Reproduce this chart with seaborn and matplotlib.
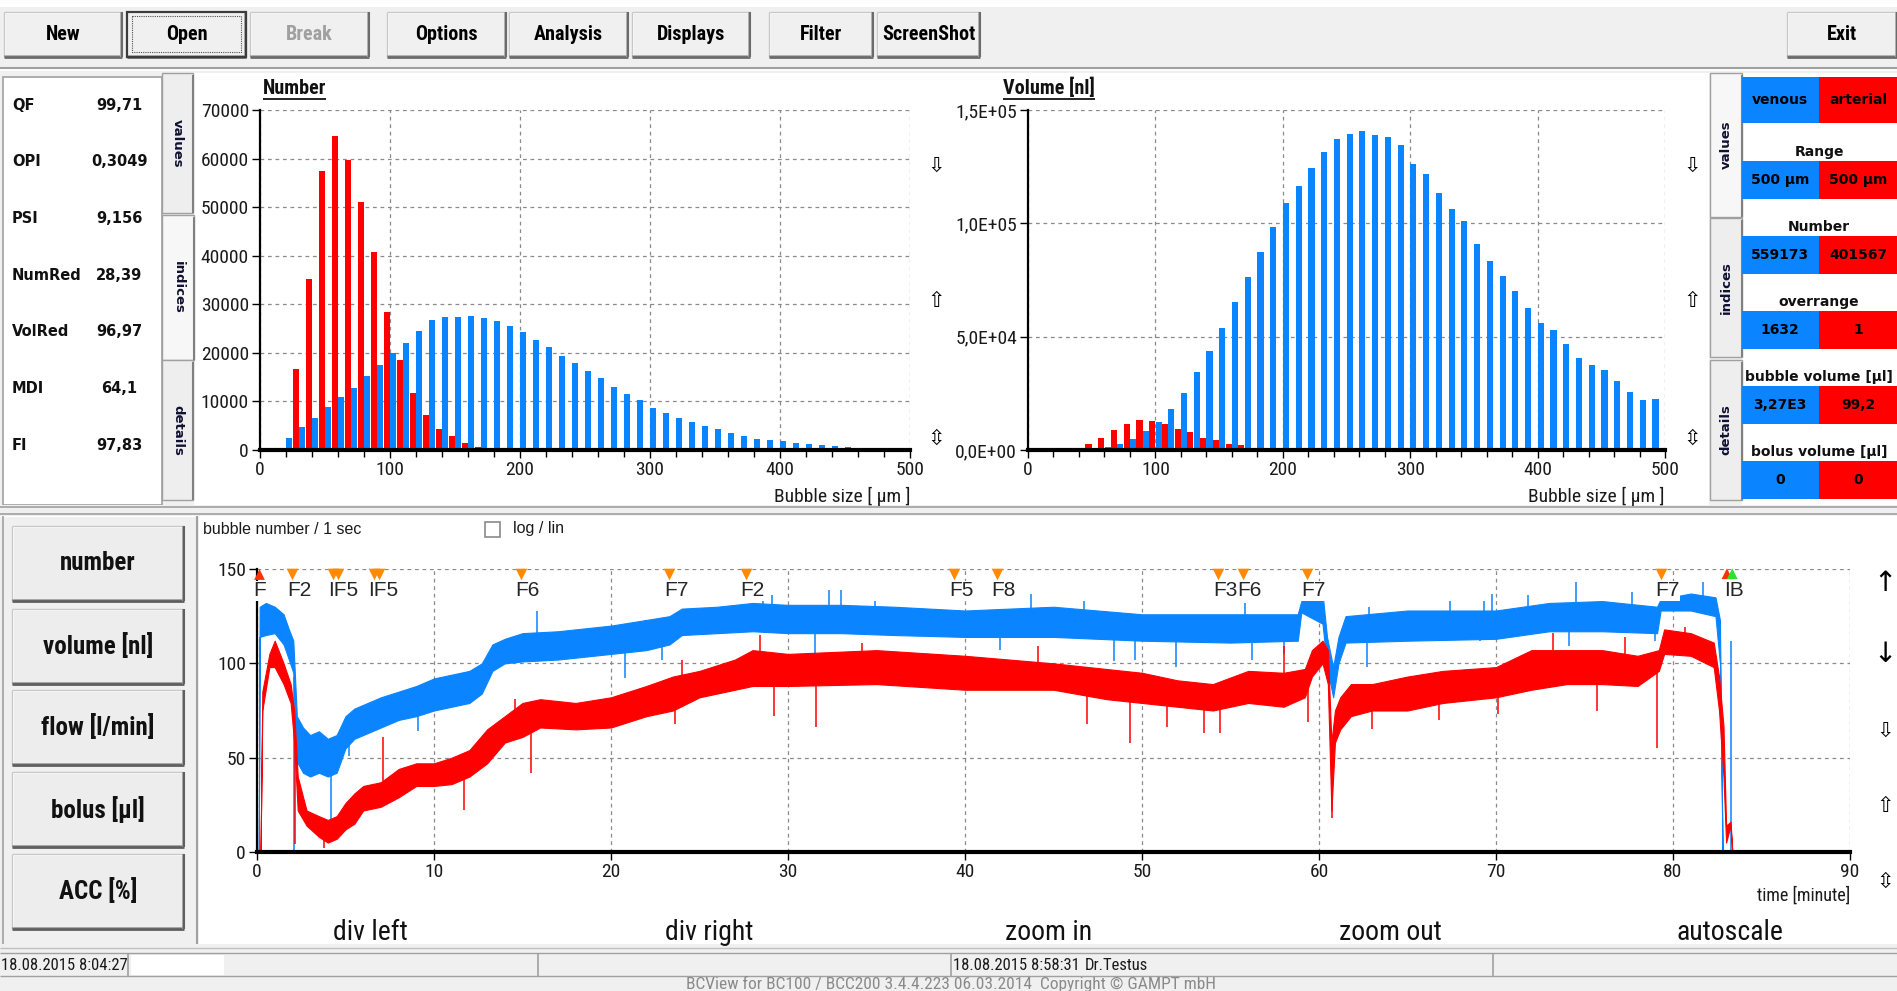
import numpy as np
import pandas as pd
import matplotlib
matplotlib.use("Agg")
import matplotlib.pyplot as plt
import seaborn as sns
from matplotlib.patches import Rectangle
from matplotlib import font_manager as fm
from matplotlib.ticker import MultipleLocator

# ---------------------------------------------------------------- data
bubble_sizes = [25, 35, 45, 55, 65, 75, 85, 95, 105, 115, 125, 135, 145, 155, 165, 175,
                185, 195, 205, 215, 225, 235, 245, 255, 265, 275, 285, 295, 305, 315, 325,
                335, 345, 355, 365, 375, 385, 395, 405, 415, 425, 435, 445, 455, 465, 475,
                485, 495]
number_venous = [2400, 4660, 6580, 8770, 10830, 12680, 15150, 17400, 19880, 22070, 24540,
                 26730, 27480, 27480, 27690, 27210, 26460, 25500, 24260, 22550, 21180, 19400,
                 17890, 16180, 14740, 13020, 11510, 10280, 8640, 7680, 6580, 5690, 4870, 4250,
                 3430, 2950, 2260, 1990, 1780, 1440, 1230, 1030, 750, 690, 480, 410, 270, 270]
number_arterial = [16650, 35300, 57370, 64700, 59630, 51000, 40710, 28440, 18570, 11790, 7270,
                   4390, 2880, 1370, 690, 410, 200, 200, 0, 0, 0, 0, 0, 0, 0, 0, 0, 0, 0, 0,
                   0, 0, 0, 0, 0, 0, 0, 0, 0, 0, 0, 0, 0, 0, 0, 0, 0, 0]
volume_venous = [0, 150, 440, 730, 1470, 2500, 4700, 8380, 12200, 17930, 25270, 34230, 43640,
                 53630, 65090, 76110, 87280, 98300, 108880, 116660, 124600, 131500, 137230,
                 139290, 140910, 138850, 138260, 134590, 126210, 121950, 113580, 106230, 100940,
                 90950, 83600, 76700, 69940, 62450, 56130, 53040, 46720, 40410, 37320, 35120,
                 30410, 25710, 22040, 22630]
volume_arterial = [0, 1030, 2640, 5290, 8960, 11610, 13220, 12640, 11460, 9400, 7930, 5290,
                   4260, 2640, 2060, 880, 880, 590, 590, 0, 0, 0, 0, 0, 0, 0, 0, 0, 0, 0, 0,
                   0, 0, 0, 0, 0, 0, 0, 0, 0, 0, 0, 0, 0, 0, 0, 0, 0]
hist_xticks = [0, 100, 200, 300, 400, 500]
number_yticks = [0, 10000, 20000, 30000, 40000, 50000, 60000, 70000]
number_ylabels = ["0", "10000", "20000", "30000", "40000", "50000", "60000", "70000"]
volume_yticks = [0, 50000, 100000, 150000]
volume_ylabels = ["0,0E+00", "5,0E+04", "1,0E+05", "1,5E+05"]

# time series (bubble number / 1 sec): envelope of the dense noisy trace
venous_t = [0.0, 0.1, 0.15, 0.5, 1.0, 1.5, 1.8, 2.05, 2.25, 2.6, 3.0, 3.5, 4.0, 4.5, 5.0,
            5.5, 6.0, 7.0, 8.0, 9.0, 10.0, 11.0, 12.0, 12.7, 13.3, 14.0, 15.0, 17.0, 20.0,
            22.0, 23.3, 24.0, 26.0, 28.0, 30.0, 33.0, 36.0, 40.0, 45.0, 50.0, 55.0, 58.8,
            59.0, 60.2, 60.45, 60.8, 61.1, 61.5, 65.0, 70.0, 73.0, 76.0, 79.1, 79.3, 81.0,
            82.4, 82.65, 82.8, 83.5]
venous_lo = [0, 0, 114, 115, 116, 110, 102, 95, 48, 42, 40, 42, 40, 42, 55, 60, 62, 66, 70,
             72, 75, 77, 79, 84, 96, 100, 101, 102, 105, 107, 110, 115, 116, 117, 116, 116,
             115, 114, 114, 112, 111, 112, 127, 121, 98, 82, 100, 111, 112, 113, 117, 117,
             116, 128, 128, 125, 100, 0, 0]
venous_hi = [0, 0, 130, 132, 130, 126, 118, 112, 72, 66, 62, 64, 60, 62, 72, 76, 78, 82, 85,
             88, 92, 94, 96, 100, 110, 113, 116, 117, 120, 123, 125, 129, 130, 132, 131, 131,
             130, 128, 130, 126, 126, 126, 133, 137, 114, 98, 114, 125, 128, 128, 132, 133,
             130, 134, 137, 135, 123, 0, 0]
arterial_t = [0.0, 0.2, 0.3, 0.7, 1.0, 1.5, 1.9, 2.1, 2.3, 2.8, 3.5, 4.0, 4.5, 5.0, 5.5, 6.0,
              7.0, 8.0, 9.0, 10.0, 11.0, 12.0, 13.0, 14.0, 15.0, 16.0, 18.0, 20.0, 22.0, 23.5,
              25.0, 27.0, 28.0, 30.0, 35.0, 40.0, 45.0, 48.0, 50.0, 52.0, 54.0, 56.0, 58.0,
              59.2, 59.6, 60.2, 60.5, 60.7, 60.9, 61.2, 61.8, 63.0, 65.0, 67.0, 70.0, 72.0,
              74.0, 76.0, 78.0, 79.2, 79.5, 81.0, 82.3, 82.6, 82.85, 83.0, 83.25, 83.35, 83.5]
arterial_lo = [0, 0, 75, 98, 98, 89, 79, 58, 22, 14, 8, 5, 7, 12, 15, 22, 24, 29, 35, 35, 36,
               40, 47, 58, 61, 66, 65, 66, 72, 75, 82, 86, 88, 88, 89, 86, 86, 81, 79, 77, 75,
               79, 77, 82, 93, 100, 89, 22, 58, 65, 72, 75, 75, 79, 82, 86, 89, 89, 88, 96,
               105, 104, 98, 75, 40, 5, 14, 0, 0]
arterial_hi = [0, 0, 85, 105, 112, 100, 89, 75, 40, 22, 19, 17, 19, 26, 31, 35, 37, 44, 47, 47,
               50, 54, 65, 72, 79, 81, 79, 82, 88, 93, 96, 102, 107, 105, 107, 104, 100, 97, 95,
               91, 89, 96, 95, 97, 107, 112, 107, 58, 75, 82, 89, 89, 93, 96, 98, 107, 107, 107,
               104, 107, 118, 116, 111, 93, 67, 14, 16, 0, 0]
venous_spike_t = [2.1, 4.2, 5.2, 9.1, 15.8, 20.8, 21.9, 22.9, 28.6, 29.1, 31.5, 32.3, 33.0,
                  34.9, 42.0, 43.75, 46.7, 48.4, 49.6, 51.9, 55.8, 56.2, 58.0, 62.7, 62.8,
                  67.4, 69.1, 69.3, 69.75, 71.8, 74.1, 74.5, 77.7, 79.0, 81.7, 83.25]
venous_spike_v = [0, 12, 51, 64, 128, 92, 123, 102, 141, 136, 103, 139, 139, 133, 107, 137,
                  133, 101, 102, 98, 132, 102, 105, 98, 130, 133, 112, 133, 137, 136, 109, 143,
                  138, 112, 143, 112]
arterial_spike_t = [2.15, 3.8, 7.1, 11.7, 14.6, 15.5, 23.6, 24.0, 28.4, 29.2, 31.6, 34.2,
                    44.1, 46.9, 49.3, 51.4, 53.5, 54.4, 58.0, 59.4, 60.75, 63.0, 66.8, 70.1,
                    73.2, 75.7, 77.3, 79.1, 80.7]
arterial_spike_v = [4, 2, 61, 22, 81, 42, 68, 102, 115, 72, 66, 111, 109, 68, 58, 66, 63, 63,
                    109, 69, 18, 65, 70, 73, 116, 75, 114, 55, 119]
time_xticks = [0, 10, 20, 30, 40, 50, 60, 70, 80, 90]
time_yticks = [0, 50, 100, 150]

event_t = [2.0, 4.3, 4.6, 6.6, 6.9, 14.9, 23.3, 27.6, 39.4, 41.8, 54.3, 55.7, 59.3, 79.3]
event_labels = ["F2", "IF5", "", "IF5", "", "F6", "F7", "F2", "F5", "F8", "F3", "F6", "F7", "F7"]
start_event_t, start_event_label = 0.1, "F"
end_event_t, end_event_label = 83.2, "IB"

index_names = ["QF", "OPI", "PSI", "NumRed", "VolRed", "MDI", "FI"]
index_values = ["99,71", "0,3049", "9,156", "28,39", "96,97", "64,1", "97,83"]
summary_titles = ["Range", "Number", "overrange", "bubble volume [µl]", "bolus volume [µl]"]
summary_venous = ["500 µm", "559173", "1632", "3,27E3", "0"]
summary_arterial = ["500 µm", "401567", "1", "99,2", "0"]
toolbar_labels = ["New", "Open", "Break", "Options", "Analysis", "Displays", "Filter", "ScreenShot", "Exit"]
view_buttons = ["number", "volume [nl]", "flow [l/min]", "bolus [µl]", "ACC [%]"]
bottom_commands = ["div left", "div right", "zoom in", "zoom out", "autoscale"]

# ---------------------------------------------------------------- style
BLUE = "#0a84ff"
RED = "#ff0000"
UIBG = "#f0f0f0"
W, H = 1897, 991

sns.set_theme(style="white")


def pick_font(cands):
    for n in cands:
        try:
            fm.findfont(fm.FontProperties(family=n), fallback_to_default=False)
            return n
        except Exception:
            continue
    return "DejaVu Sans"


NARROW = pick_font(["Liberation Sans Narrow", "Arial Narrow", "Roboto Condensed", "Liberation Sans"])
ARIAL = pick_font(["Liberation Sans", "Arimo", "DejaVu Sans"])
plt.rcParams["font.family"] = [NARROW, "DejaVu Sans"]

fig = plt.figure(figsize=(W / 100, H / 100), dpi=100)
fig.patch.set_facecolor(UIBG)
ui = fig.add_axes([0, 0, 1, 1])
ui.set_xlim(0, W)
ui.set_ylim(H, 0)
ui.axis("off")


def add_ax(x0, y0, x1, y1):
    return fig.add_axes([x0 / W, 1 - y1 / H, (x1 - x0) / W, (y1 - y0) / H])


def rect(x0, y0, x1, y1, fc, ec="none", lw=0, z=1, ls="-"):
    ui.add_patch(Rectangle((x0, y0), x1 - x0, y1 - y0, facecolor=fc, edgecolor=ec,
                           linewidth=lw, zorder=z, linestyle=ls))


def line(xs, ys, c, lw=1.0, z=2):
    ui.plot(xs, ys, color=c, lw=lw, zorder=z, solid_capstyle="butt")


def txt(x, y, s, fs, ha="center", va="center", family=None, weight="normal", color="black",
        rot=0, z=5):
    kw = {}
    if family is not None:
        kw["family"] = family
    return ui.text(x, y, s, fontsize=fs, ha=ha, va=va, weight=weight, color=color,
                   rotation=rot, zorder=z, **kw)


def button3d(x0, y0, x1, y1, face="#f0f0f0", dark="#6b6b6b", mid="#a8a8a8"):
    rect(x0, y0, x1, y1, face, z=1)
    line([x0, x1], [y0 + 0.5, y0 + 0.5], "white", 1.5)
    line([x0 + 0.5, x0 + 0.5], [y0, y1], "white", 1.5)
    line([x0, x1], [y0 - 0.5, y0 - 0.5], "#c8c8c8", 1)
    line([x0 - 0.5, x0 - 0.5], [y0, y1], "#c8c8c8", 1)
    line([x0, x1], [y1 - 1.5, y1 - 1.5], mid, 1.2)
    line([x0, x1], [y1, y1], dark, 2.0)
    line([x1 - 1.5, x1 - 1.5], [y0, y1], mid, 1.2)
    line([x1, x1], [y0, y1], dark, 1.5)


# ---------------------------------------------------------------- toolbar
rect(0, 0, W, 7, "white", z=0.5)
tb_x = [(4, 122), (127, 246), (250, 369), (387, 506), (509, 628), (632, 750), (769, 873),
        (877, 980), (1787, 1897)]
for (x0, x1), lab in zip(tb_x, toolbar_labels):
    button3d(x0, 12, x1, 57)
    col = "#a0a0a0" if lab == "Break" else "black"
    txt((x0 + x1) / 2, 35, lab, 14.5, color=col, weight="bold")
    if lab == "Open":
        rect(x0, 12, x1, 57, "none", ec="#3c3c3c", lw=1.6, z=3)
        rect(x0 + 5, 16, x1 - 5, 52, "none", ec="#505050", lw=0.8, z=3, ls=(0, (1, 1)))
line([0, W], [68, 68], "#a0a0a0", 1.5)
line([0, W], [70, 70], "white", 1.2)

# ---------------------------------------------------------------- top white area
rect(194, 73, 1709, 505, "white", z=0.6)
rect(3, 77, 162, 505, "white", ec="#a0a0a0", lw=1.2, z=0.7)
for i, (n, v) in enumerate(zip(index_names, index_values)):
    y = 105 + i * 56.7
    txt(12, y, n, 10.5, ha="left", family="DejaVu Sans", weight="bold", color="#111111")
    txt(119, y, v, 10.5, ha="center", family="DejaVu Sans", weight="bold", color="#111111")


def tab(x0, y0, x1, y1, label, rot, active=False):
    rect(x0, y0, x1, y1, "#f7f7f7" if active else "#eeeeee", ec="#a0a0a0", lw=1.0, z=0.8)
    line([x1, x1], [y0 + 2, y1], "#808080", 1.5, z=0.9)
    txt((x0 + x1) / 2, (y0 + y1) / 2, label, 9.5, family="DejaVu Sans", weight="bold",
        color="#101030", rot=rot)


tab(162, 73, 193, 213, "values", 270)
tab(162, 215, 194, 360, "indices", 270, active=True)
tab(162, 360, 193, 500, "details", 270)
tab(1710, 73, 1742, 217, "values", 90, active=True)
tab(1710, 218, 1742, 357, "indices", 90)
tab(1710, 360, 1742, 500, "details", 90)

rect(1742, 73, W, 505, "white", z=0.6)
rect(1742, 77, 1819, 123, BLUE, z=1)
rect(1819, 77, W, 123, RED, z=1)
txt(1780, 100, "venous", 10, family="DejaVu Sans", weight="bold")
txt(1858, 100, "arterial", 10, family="DejaVu Sans", weight="bold")
for i, (ttl, vv, av) in enumerate(zip(summary_titles, summary_venous, summary_arterial)):
    ty = 152 + i * 75
    by0, by1 = 161 + i * 75, 199 + i * 75
    txt(1819, ty, ttl, 10, family="DejaVu Sans", weight="bold", color="#111111")
    rect(1742, by0, 1819, by1, BLUE, z=1)
    rect(1819, by0, W, by1, RED, z=1)
    txt(1780, (by0 + by1) / 2, vv, 10, family="DejaVu Sans", weight="bold")
    txt(1858, (by0 + by1) / 2, av, 10, family="DejaVu Sans", weight="bold")


# ---------------------------------------------------------------- histograms
def style_common(ax):
    ax.set_facecolor("white")
    ax.grid(True, which="major", color="#8a8a8a", linestyle=(0, (3, 3)), linewidth=0.9)
    ax.set_axisbelow(True)
    for s in ["top", "right"]:
        ax.spines[s].set_visible(False)
    ax.spines["left"].set_color("black")
    ax.spines["left"].set_linewidth(1.6)
    ax.spines["bottom"].set_color("black")
    ax.spines["bottom"].set_linewidth(3.0)
    ax.spines["bottom"].set_zorder(5)
    ax.tick_params(axis="both", which="major", direction="out", length=6, width=1,
                   color="black", labelsize=14, pad=2, labelcolor="#1a1a1a",
                   bottom=True, left=True)
    ax.tick_params(axis="x", which="minor", direction="out", length=5, width=1,
                   color="black", bottom=True)
    ax.set_xlabel("")
    ax.set_ylabel("")


def hist_panel(ax, ven, art, yticks, ylabels, ymax):
    df = pd.DataFrame({
        "size": bubble_sizes + bubble_sizes,
        "value": ven + art,
        "kind": ["venous"] * len(bubble_sizes) + ["arterial"] * len(bubble_sizes),
    })
    sns.barplot(data=df, x="size", y="value", hue="kind", hue_order=["venous", "arterial"],
                palette={"venous": BLUE, "arterial": RED}, native_scale=True, width=1.0,
                gap=0.04, dodge=True, errorbar=None, legend=False, saturation=1,
                linewidth=0, ax=ax)
    ax.set_xlim(0, 500)
    ax.set_ylim(0, ymax)
    ax.set_xticks(hist_xticks)
    ax.set_xticklabels([str(v) for v in hist_xticks])
    ax.set_yticks(yticks)
    ax.set_yticklabels(ylabels)
    ax.xaxis.set_minor_locator(MultipleLocator(20))
    style_common(ax)


ax_num = add_ax(260, 110, 910, 450)
hist_panel(ax_num, number_venous, number_arterial, number_yticks, number_ylabels, 70000)
ax_vol = add_ax(1028, 110, 1665, 450)
hist_panel(ax_vol, volume_venous, volume_arterial, volume_yticks, volume_ylabels, 150000)

renderer = fig.canvas.get_renderer()


def underlined_title(x, y, s):
    t = txt(x, y, s, 14.5, ha="left", weight="bold", color="#111111")
    bb = t.get_window_extent(renderer)
    inv = ui.transData.inverted()
    (xa, _), (xb, _) = inv.transform([(bb.x0, bb.y0), (bb.x1, bb.y0)])
    line([xa, xb], [y + 11, y + 11], "#111111", 1.3, z=5)


underlined_title(263, 88, "Number")
underlined_title(1003, 88, "Volume [nl]")
txt(910, 496, "Bubble size [ µm ]", 14, ha="right", color="#1a1a1a")
txt(1665, 496, "Bubble size [ µm ]", 14, ha="right", color="#1a1a1a")
for ax_x in (936, 1692):
    txt(ax_x, 166, "⇩", 15, family="DejaVu Sans")
    txt(ax_x, 301, "⇧", 15, family="DejaVu Sans")
    txt(ax_x, 439, "⇳", 15, family="DejaVu Sans")

# ---------------------------------------------------------------- separator
rect(0, 505, W, 516, UIBG, z=0.7)
line([0, W], [507, 507], "#a0a0a0", 1.2)
line([0, W], [514, 514], "#a0a0a0", 1.2)
line([0, W], [515.5, 515.5], "white", 1.0)

# ---------------------------------------------------------------- bottom section
rect(199, 516, W, 944, "white", z=0.6)
line([197, 197], [516, 944], "#a0a0a0", 1.5)
line([3, 3], [516, 944], "#a0a0a0", 1.2)
btn_rows = [(526, 601), (609, 684), (690, 765), (772, 847), (854, 929)]
for (y0, y1), lab in zip(btn_rows, view_buttons):
    button3d(12, y0, 184, y1, face="#ededed", dark="#5f5f5f", mid="#9a9a9a")
    txt(98, (y0 + y1) / 2, lab, 18, weight="bold", color="#111111")

txt(203, 530, "bubble number / 1 sec", 11.5, ha="left", family=ARIAL, color="#1a1a1a")
rect(485, 522, 500, 537, "white", ec="#8a8a8a", lw=1.2, z=2)
txt(513, 529, "log / lin", 11.5, ha="left", family=ARIAL, color="#1a1a1a")

ax_t = add_ax(257, 569, 1850, 852)
ax_t.fill_between(venous_t, venous_lo, venous_hi, color=BLUE, lw=0.8, zorder=2)
ax_t.fill_between(arterial_t, arterial_lo, arterial_hi, color=RED, lw=0.8, zorder=3)
ven_mid = (np.array(venous_lo) + np.array(venous_hi)) / 2
art_mid = (np.array(arterial_lo) + np.array(arterial_hi)) / 2
ax_t.vlines(venous_spike_t, np.interp(venous_spike_t, venous_t, ven_mid), venous_spike_v,
            color=BLUE, lw=1.1, zorder=2)
ax_t.vlines(arterial_spike_t, np.interp(arterial_spike_t, arterial_t, art_mid),
            arterial_spike_v, color=RED, lw=1.1, zorder=3)
ax_t.set_xlim(0, 90)
ax_t.set_ylim(0, 150)
ax_t.set_xticks(time_xticks)
ax_t.set_xticklabels([str(v) for v in time_xticks])
ax_t.set_yticks(time_yticks)
ax_t.set_yticklabels([str(v) for v in time_yticks])
style_common(ax_t)

sns.scatterplot(x=event_t, y=[147.5] * len(event_t), marker="v", color="#ff8a00", s=70,
                linewidth=0, ax=ax_t, clip_on=False, zorder=6)
ax_t.scatter([start_event_t], [147.5], marker="^", color="#ff3000", s=60, linewidth=0,
             clip_on=False, zorder=6)
ax_t.scatter([end_event_t - 0.15, end_event_t + 0.15], [147.5, 147.5], marker="^",
             color=["#ff3000", "#30e030"], s=60, linewidth=0, clip_on=False, zorder=6)
for tt, lab in zip(event_t + [start_event_t, end_event_t],
                   event_labels + [start_event_label, end_event_label]):
    if not lab:
        continue
    ax_t.text(tt - 0.3, 138.5, lab, fontsize=15, family=ARIAL, ha="left", va="center",
              zorder=7, bbox=dict(facecolor="white", edgecolor="none", pad=0.3))

txt(1850, 896, "time [minute]", 13, ha="right", color="#1a1a1a")
for yy, arr, fs in [(583, "↑", 20), (654, "↓", 20), (731, "⇩", 15), (806, "⇧", 15),
                    (882, "⇳", 15)]:
    txt(1885, yy, arr, fs, family="DejaVu Sans")
for xx, lab in zip([370, 709, 1049, 1390, 1730], bottom_commands):
    txt(xx, 933, lab, 20, color="#111111")

# ---------------------------------------------------------------- status bar
rect(0, 944, W, 991, UIBG, z=0.6)
line([0, W], [948, 948], "#c0c0c0", 1.0)
line([0, W], [953, 953], "#a0a0a0", 1.0)
line([0, W], [976, 976], "#a0a0a0", 1.0)
for xs in (128, 538, 951, 1493):
    line([xs, xs], [953, 976], "#a0a0a0", 1.2)
rect(131, 955, 224, 975, "white", z=2)
txt(1, 965, "18.08.2015 8:04:27", 12, ha="left", color="#1a1a1a")
txt(953, 965, "18.08.2015 8:58:31", 12, ha="left", color="#1a1a1a")
txt(1085, 965, "Dr.Testus", 12, ha="left", color="#1a1a1a")
txt(951, 984, "BCView for BC100 / BCC200 3.4.4.223 06.03.2014  Copyright © GAMPT mbH", 12.5,
    color="#8a8a8a")

fig.savefig("out.png", dpi=100, facecolor=fig.get_facecolor())
